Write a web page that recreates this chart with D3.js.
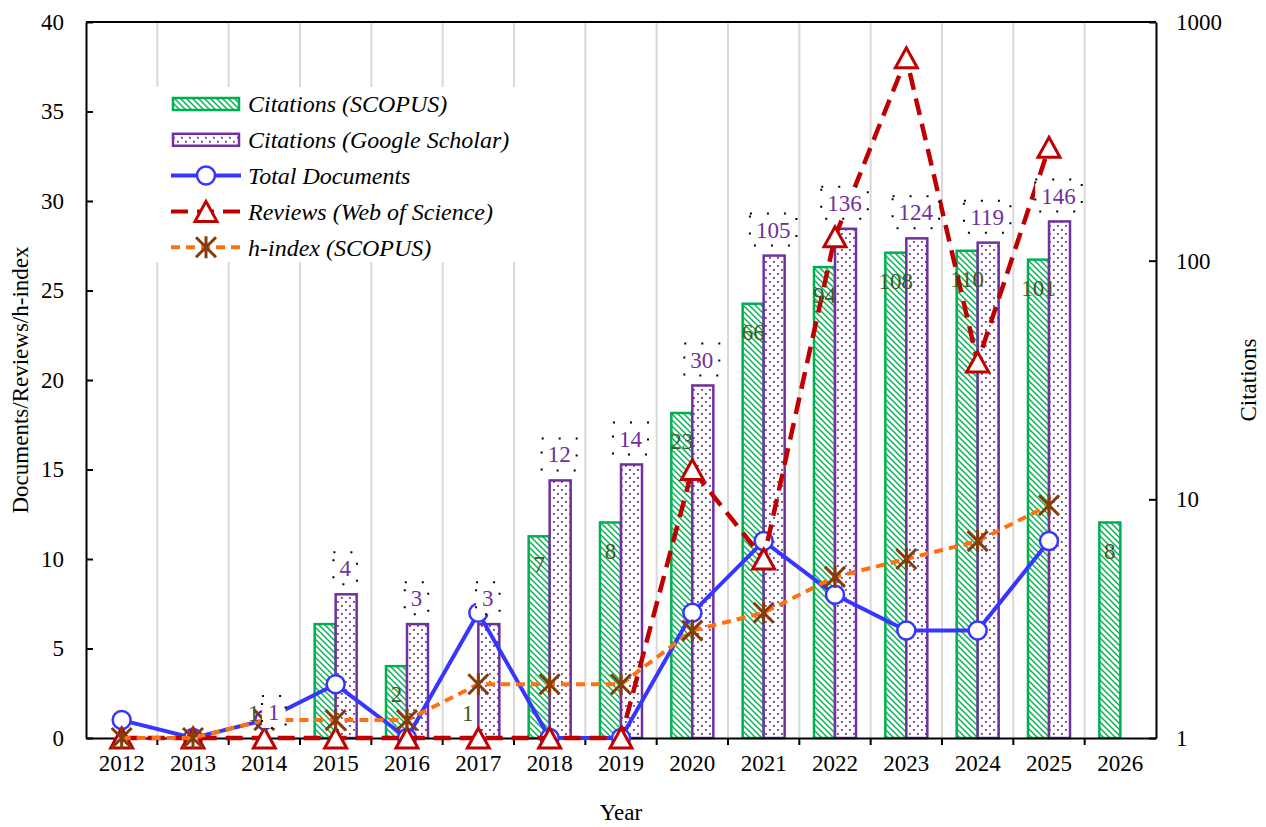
<!DOCTYPE html>
<html>
<head>
<meta charset="utf-8">
<script src="https://cdn.jsdelivr.net/npm/d3@7"></script>
<style>
  body { margin: 0; background: #fff; }
  svg { font-family: "Liberation Serif", "Times New Roman", serif; }
</style>
</head>
<body>
<div id="chart"></div>
<script>
const years = ['2012','2013','2014','2015','2016','2017','2018','2019','2020','2021','2022','2023','2024','2025','2026'];
const citScopus = [null, null, 1, 3, 2, 1, 7, 8, 23, 66, 94, 108, 110, 101, 8];
const citScholar = [null, null, 1, 4, 3, 3, 12, 14, 30, 105, 136, 124, 119, 146, null];
const totalDocs = [1, 0, 1, 3, 0, 7, 0, 0, 7, 11, 8, 6, 6, 11, null];
const reviewsWos = [0, 0, 0, 0, 0, 0, 0, 0, 15, 10, 28, 38, 21, 33, null];
const hIndex = [0, 0, 1, 1, 1, 3, 3, 3, 6, 7, 9, 10, 11, 13, null];
const scopusUnlabelled = ['2015'];
const leftTicks = [0, 5, 10, 15, 20, 25, 30, 35, 40];
const rightTicks = [1, 10, 100, 1000];

const W = 1266, H = 827;
const m = {top: 22, right: 110, bottom: 89, left: 86};
const x0 = m.left, x1 = W - m.right, y0 = H - m.bottom, y1 = m.top;
const FS = 23;

const C = {
  green: '#00B050', purple: '#7030A0', blue: '#3636FF', red: '#C00000',
  orange: '#FF7010', brown: '#843C0C', grid: '#D9D9D9', glab: '#3F5A2A'
};

const svg = d3.select('#chart').append('svg')
  .attr('width', W).attr('height', H);

// patterns
const defs = svg.append('defs');
const hatch = defs.append('pattern').attr('id', 'hatch')
  .attr('patternUnits', 'userSpaceOnUse').attr('width', 6).attr('height', 6);
hatch.append('rect').attr('width', 6).attr('height', 6).attr('fill', '#fff');
hatch.append('path').attr('d', 'M-1,-1 L7,7 M-4,2 L2,8 M4,-2 L10,4')
  .attr('stroke', C.green).attr('stroke-width', 1.4);
const dots = defs.append('pattern').attr('id', 'dots')
  .attr('patternUnits', 'userSpaceOnUse').attr('width', 8).attr('height', 8);
dots.append('rect').attr('width', 8).attr('height', 8).attr('fill', '#fff');
dots.append('rect').attr('x', 1).attr('y', 1).attr('width', 1.8).attr('height', 1.8).attr('fill', C.purple);
dots.append('rect').attr('x', 5).attr('y', 5).attr('width', 1.8).attr('height', 1.8).attr('fill', C.purple);

const x = d3.scaleBand().domain(years).range([x0, x1]).paddingInner(0).paddingOuter(0);
const yL = d3.scaleLinear().domain([0, 40]).range([y0, y1]);
const yR = d3.scaleLog().domain([1, 1000]).range([y0, y1]);
const cx = d => x(d) + x.bandwidth() / 2;

// vertical gridlines at band boundaries
svg.append('g').selectAll('line')
  .data(years.slice(1))
  .join('line')
  .attr('x1', d => x(d)).attr('x2', d => x(d))
  .attr('y1', y1).attr('y2', y0)
  .attr('stroke', C.grid).attr('stroke-width', 2);

// bars
const barW = 21;
const scopusData = years.map((d, i) => ({year: d, v: citScopus[i]})).filter(d => d.v != null && d.v > 1);
const scholarData = years.map((d, i) => ({year: d, v: citScholar[i]})).filter(d => d.v != null && d.v > 1);

svg.append('g').selectAll('rect')
  .data(scopusData)
  .join('rect')
  .attr('x', d => cx(d.year) - barW)
  .attr('y', d => yR(d.v))
  .attr('width', barW)
  .attr('height', d => y0 - yR(d.v))
  .attr('fill', 'url(#hatch)')
  .attr('stroke', C.green).attr('stroke-width', 2.5);

svg.append('g').selectAll('rect')
  .data(scholarData)
  .join('rect')
  .attr('x', d => cx(d.year))
  .attr('y', d => yR(d.v))
  .attr('width', barW)
  .attr('height', d => y0 - yR(d.v))
  .attr('fill', 'url(#dots)')
  .attr('stroke', C.purple).attr('stroke-width', 2.5);

// axes
const axL = svg.append('g').attr('transform', `translate(${x0},0)`)
  .call(d3.axisLeft(yL).tickValues(leftTicks).tickSizeInner(-7).tickSizeOuter(0).tickPadding(22));
const axR = svg.append('g').attr('transform', `translate(${x1},0)`)
  .call(d3.axisRight(yR).tickValues(rightTicks).tickFormat(d3.format('d')).tickSizeInner(-7).tickSizeOuter(0).tickPadding(20));
const axB = svg.append('g').attr('transform', `translate(0,${y0})`)
  .call(d3.axisBottom(x).tickSize(0).tickPadding(17));
// tick marks between categories
svg.append('g').selectAll('line')
  .data(years.slice(1))
  .join('line')
  .attr('x1', d => x(d)).attr('x2', d => x(d))
  .attr('y1', y0).attr('y2', y0 + 7)
  .attr('stroke', '#000').attr('stroke-width', 2);
svg.append('line').attr('x1', x0).attr('x2', x1).attr('y1', y1).attr('y2', y1)
  .attr('stroke', '#000').attr('stroke-width', 2);

[axL, axR, axB].forEach(g => {
  g.selectAll('.domain').attr('stroke', '#000').attr('stroke-width', 2);
  g.selectAll('.tick line').attr('stroke', '#000').attr('stroke-width', 2);
  g.selectAll('.tick text').attr('font-size', FS).attr('fill', '#000')
    .attr('font-family', '"Liberation Serif", "Times New Roman", serif');
});

// axis titles
svg.append('text').attr('x', (x0 + x1) / 2).attr('y', 820)
  .attr('text-anchor', 'middle').attr('font-size', FS).text('Year');
svg.append('text').attr('transform', `translate(28,${(y0 + y1) / 2}) rotate(-90)`)
  .attr('text-anchor', 'middle').attr('font-size', FS).text('Documents/Reviews/h-index');
svg.append('text').attr('transform', `translate(1256,${(y0 + y1) / 2}) rotate(-90)`)
  .attr('text-anchor', 'middle').attr('font-size', FS).text('Citations');

// markers
function circleMarker(g) {
  g.append('circle').attr('r', 9).attr('fill', '#fff').attr('stroke', C.blue).attr('stroke-width', 2.5);
}
function triMarker(g) {
  g.append('path').attr('d', 'M0,-10 L11,10 L-11,10 Z')
    .attr('fill', '#fff').attr('stroke', C.red).attr('stroke-width', 3).attr('stroke-linejoin', 'miter');
}
function starMarker(g) {
  g.append('path').attr('d', 'M-10,-10 L10,10 M-10,10 L10,-10 M0,-11 L0,11')
    .attr('stroke', C.brown).attr('stroke-width', 3);
}

function drawSeries(vals, color, width, dash, marker) {
  const pts = years.map((d, i) => ({year: d, v: vals[i]})).filter(d => d.v != null);
  svg.append('path').datum(pts)
    .attr('fill', 'none').attr('stroke', color).attr('stroke-width', width)
    .attr('stroke-dasharray', dash)
    .attr('d', d3.line().x(d => cx(d.year)).y(d => yL(d.v)));
  svg.append('g').selectAll('g')
    .data(pts)
    .join('g')
    .attr('transform', d => `translate(${cx(d.year)},${yL(d.v)})`)
    .each(function() { marker(d3.select(this)); });
}

drawSeries(totalDocs, C.blue, 4, null, circleMarker);
drawSeries(reviewsWos, C.red, 4.5, '17,9', triMarker);
drawSeries(hIndex, C.orange, 4, '9,6', starMarker);

// data labels: SCOPUS (inside end)
svg.append('g').selectAll('text')
  .data(scopusData.concat(years.map((d, i) => ({year: d, v: citScopus[i]})).filter(d => d.v === 1))
    .filter(d => !scopusUnlabelled.includes(d.year)))
  .join('text')
  .attr('x', d => cx(d.year) - barW / 2)
  .attr('y', d => Math.min(yR(d.v) + 28, y0 - 25))
  .attr('dy', '0.35em')
  .attr('text-anchor', 'middle')
  .attr('font-size', FS)
  .attr('fill', C.glab)
  .text(d => d.v);

// data labels: Google Scholar (outside end, dotted box)
const schLabels = years.map((d, i) => ({year: d, v: citScholar[i]})).filter(d => d.v != null);
const boxW = d => String(d.v).length * 11.5 + 12;
const lg = svg.append('g').selectAll('g')
  .data(schLabels)
  .join('g')
  .attr('transform', d => `translate(${cx(d.year) + barW / 2 - 1},${yR(d.v) - 26})`);
lg.append('rect')
  .attr('x', d => -boxW(d) / 2)
  .attr('y', -16)
  .attr('width', boxW)
  .attr('height', 32)
  .attr('fill', '#fff')
  .attr('stroke', '#000').attr('stroke-width', 2).attr('stroke-dasharray', '2,15');
lg.append('text')
  .attr('dy', '0.35em').attr('text-anchor', 'middle')
  .attr('font-size', FS).attr('fill', C.purple)
  .text(d => d.v);

// legend
const legend = svg.append('g');
legend.append('rect').attr('x', 156).attr('y', 87).attr('width', 364).attr('height', 175).attr('fill', '#fff');
const legendItems = [
  {label: 'Citations (SCOPUS)', type: 'bar', fill: 'url(#hatch)', stroke: C.green},
  {label: 'Citations (Google Scholar)', type: 'bar', fill: 'url(#dots)', stroke: C.purple},
  {label: 'Total Documents', type: 'line', color: C.blue, dash: null, marker: circleMarker},
  {label: 'Reviews (Web of Science)', type: 'line', color: C.red, dash: '17,9', marker: triMarker},
  {label: 'h-index (SCOPUS)', type: 'line', color: C.orange, dash: '9,6', marker: starMarker}
];
const li = legend.selectAll('g.item')
  .data(legendItems)
  .join('g').attr('class', 'item')
  .attr('transform', (d, i) => `translate(0,${104 + i * 35.8})`);
li.each(function(d) {
  const g = d3.select(this);
  if (d.type === 'bar') {
    g.append('rect').attr('x', 173).attr('y', -6).attr('width', 66).attr('height', 12)
      .attr('fill', d.fill).attr('stroke', d.stroke).attr('stroke-width', 2.5);
  } else {
    g.append('line').attr('x1', 171).attr('x2', 241).attr('y1', 0).attr('y2', 0)
      .attr('stroke', d.color).attr('stroke-width', 4).attr('stroke-dasharray', d.dash);
    const mg = g.append('g').attr('transform', 'translate(206,0)');
    d.marker(mg);
  }
  g.append('text').attr('x', 248).attr('dy', '0.35em')
    .attr('font-size', FS + 1).attr('font-style', 'italic').text(d.label);
});
</script>
</body>
</html>
